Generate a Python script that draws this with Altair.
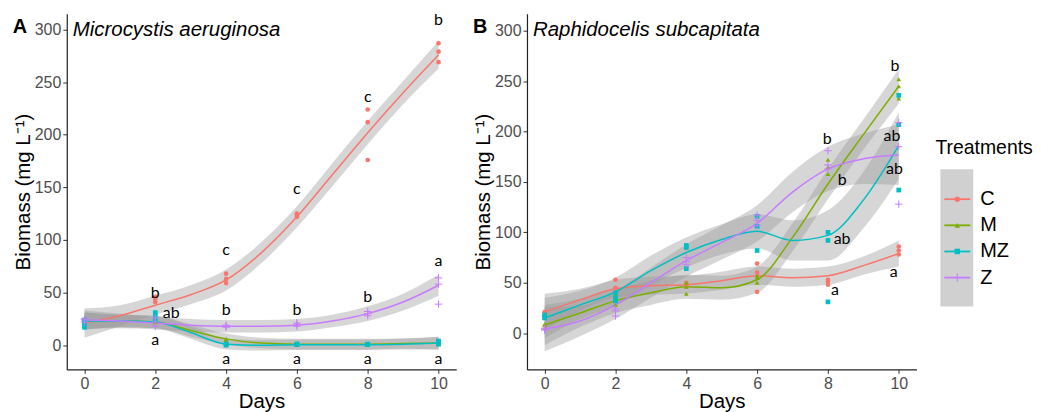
import altair as alt
import pandas as pd

# ---------------- data ----------------
treatments = ["C", "M", "MZ", "Z"]
colors = ["#F8766D", "#7CAE00", "#00BFC4", "#C77CFF"]
days = [0, 2, 4, 6, 8, 10]
fit_days = [0, 1, 2, 3, 4, 5, 6, 7, 8, 9, 10]

# Panel A: Microcystis aeruginosa  (3 replicates per sampling day)
A_C = [[18, 21, 24], [41, 44, 46], [59, 63, 68], [122, 124, 125], [176, 212, 224], [269, 279, 287]]
A_M = [[21, 23, 24], [22, 23, 24], [3, 5, 6], [0.5, 1, 1.5], [0.5, 1, 1], [1, 2, 3]]
A_MZ = [[17, 20, 24], [24, 28, 31], [0, 1, 1], [0.5, 1, 1], [0.5, 0.5, 1], [1, 3, 4]]
A_Z = [[22, 24, 25], [18, 22, 26], [17, 18, 19], [18, 20, 21], [28, 30, 32], [39, 58, 64]]

# Panel A smooth fits and CI half-widths
A_fit = {
    "C": [21, 28, 38, 48, 62, 88, 122, 162, 202, 240, 276],
    "M": [23, 23, 22, 14, 6, 2, 1, 1, 1, 1.5, 2],
    "MZ": [23, 23, 22, 12, 1, 0, 0.5, 0.5, 0.5, 1, 2],
    "Z": [24, 23, 21, 19, 18, 18, 19, 23, 30, 41, 57],
}
A_se = {
    "C": [14, 10, 9, 9, 10, 10, 10, 11, 11, 11, 13],
    "M": [8, 6, 6, 6, 5, 5, 5, 5, 5, 5, 6],
    "MZ": [8, 6, 6, 6, 5, 5, 5, 5, 5, 5, 6],
    "Z": [9, 7, 6, 6, 6, 6, 6, 6, 7, 8, 10],
}

# Panel B: Raphidocelis subcapitata
B_C = [[18, 20, 21], [40, 45, 53], [46, 48, 50], [41, 60, 69], [48, 51, 53], [78, 82, 86]]
B_M = [[5, 8, 9], [28, 33, 38], [39, 46, 50], [50, 55, 57], [158, 165, 172], [233, 245, 252]]
B_MZ = [[15, 16, 18], [32, 35, 40], [64, 85, 87], [82, 106, 116], [31, 92, 100], [142, 207, 236]]
B_Z = [[3, 4, 5], [17, 22, 24], [68, 71, 75], [107, 112, 117], [163, 167, 181], [128, 185, 209]]

B_fit = {
    "C": [21, 33, 44, 47, 48, 52, 57, 55, 57, 67, 79],
    "M": [8, 20, 32, 40, 46, 45, 53, 95, 148, 197, 245],
    "MZ": [15, 28, 41, 62, 80, 93, 101, 92, 97, 132, 186],
    "Z": [4, 12, 28, 50, 72, 90, 109, 140, 163, 173, 177],
}
B_se = {
    "C": [18, 11, 9, 9, 9, 9, 9, 9, 9, 9, 13],
    "M": [20, 14, 12, 12, 12, 12, 13, 14, 15, 15, 17],
    "MZ": [20, 14, 14, 15, 15, 15, 17, 20, 25, 28, 33],
    "Z": [22, 15, 14, 15, 16, 17, 18, 20, 22, 25, 30],
}

# significance letters: (day, value, text)
A_letters = [(10, 309.5, "b"), (8, 236, "c"), (6, 148, "c"), (4, 90, "c"), (2, 50, "b"),
             (2.45, 31, "ab"), (2, 5, "a"), (4, 33, "b"), (4, -13, "a"), (6, 33, "b"),
             (6, -13, "a"), (8, 46, "b"), (8, -13, "a"), (10, 80, "a"), (10, -13, "a")]
B_letters = [(9.89, 265, "b"), (9.81, 196, "ab"), (9.88, 163, "ab"), (7.98, 193, "b"),
             (8.4, 152, "b"), (8.4, 93, "ab"), (8.2, 43, "a"), (9.86, 61, "a")]

titles = {"A": "Microcystis aeruginosa", "B": "Raphidocelis subcapitata"}
y_domains = {"A": [-23, 315], "B": [-36, 317]}

# ---------------- helpers ----------------
def points_df(series):
    rows = []
    for t, reps in zip(treatments, series):
        for d, vals in zip(days, reps):
            for v in vals:
                rows.append({"Treatment": t, "day": d, "value": v})
    return pd.DataFrame(rows)


def fit_df(fit, se):
    rows = []
    for t in treatments:
        for d, f, s in zip(fit_days, fit[t], se[t]):
            rows.append({"Treatment": t, "day": d, "fit": f, "lo": f - s, "hi": f + s})
    return pd.DataFrame(rows)


color_scale = alt.Scale(domain=treatments, range=colors)
shape_scale = alt.Scale(domain=["C", "M", "MZ"], range=["circle", "triangle-up", "square"])
PLUS = "M-1,0L1,0M0,-1L0,1"
W, H = 391, 357


def panel(key, pts, fit, se, letters):
    xs = alt.Scale(domain=[-0.5, 10.5], nice=False, zero=False)
    ys = alt.Scale(domain=y_domains[key], nice=False, zero=False)
    xax = alt.Axis(values=days, title="Days", titlePadding=0)
    yax = alt.Axis(values=[0, 50, 100, 150, 200, 250, 300], title="Biomass (mg L⁻¹)", titlePadding=1)
    fd = fit_df(fit, se)
    pdf = points_df(pts)

    band = alt.Chart(fd).mark_area(color="#999999", opacity=0.4, interpolate="monotone").encode(
        x=alt.X("day:Q", scale=xs, axis=xax),
        y=alt.Y("lo:Q", scale=ys, axis=yax),
        y2="hi:Q",
        detail="Treatment:N",
    )
    line = alt.Chart(fd).mark_line(strokeWidth=1.5, interpolate="monotone").encode(
        x="day:Q", y="fit:Q",
        color=alt.Color("Treatment:N", scale=color_scale, legend=None),
    )
    filled = alt.Chart(pdf[pdf.Treatment != "Z"]).mark_point(filled=True, size=22, opacity=1).encode(
        x="day:Q", y="value:Q",
        color=alt.Color("Treatment:N", scale=color_scale, legend=None),
        shape=alt.Shape("Treatment:N", scale=shape_scale, legend=None),
    )
    plus = alt.Chart(pdf[pdf.Treatment == "Z"]).mark_point(
        shape=PLUS, filled=False, size=55, strokeWidth=1, opacity=1
    ).encode(
        x="day:Q", y="value:Q",
        color=alt.Color("Treatment:N", scale=color_scale, legend=None),
    )
    ldf = pd.DataFrame(letters, columns=["day", "value", "label"])
    lab = alt.Chart(ldf).mark_text(font="Lato", fontSize=16, color="black").encode(
        x="day:Q", y="value:Q", text="label:N"
    )
    tdf = pd.DataFrame({"t": [titles[key]], "p": [key]})
    ttl = alt.Chart(tdf).mark_text(
        font="Liberation Sans", fontStyle="italic", fontSize=20.5, align="left", baseline="middle", color="black"
    ).encode(x=alt.value(6), y=alt.value(16), text="t:N")
    tag = alt.Chart(tdf).mark_text(
        font="Liberation Sans", fontWeight="bold", fontSize=20, align="center", baseline="middle", color="black"
    ).encode(x=alt.value(-47), y=alt.value(13), text="p:N")
    return alt.layer(band, line, filled, plus, lab, ttl, tag).properties(width=W, height=H)


pA = panel("A", [A_C, A_M, A_MZ, A_Z], A_fit, A_se, A_letters)
pB = panel("B", [B_C, B_M, B_MZ, B_Z], B_fit, B_se, B_letters)

# ---------------- legend panel ----------------
leg_df = pd.DataFrame({"Treatment": treatments})
ly = alt.Y("Treatment:N", scale=alt.Scale(type="point", domain=treatments, range=[173, 278]), axis=None)
leg_bg = alt.Chart(pd.DataFrame({"a": [0]})).mark_rect(color="#D0D0D0").encode(
    x=alt.value(8), x2=alt.value(41), y=alt.value(156), y2=alt.value(294)
)
leg_title = alt.Chart(pd.DataFrame({"t": ["Treatments"]})).mark_text(
    font="Liberation Sans", fontSize=19.5, align="left", baseline="middle", color="black"
).encode(x=alt.value(3), y=alt.value(135), text="t:N")
leg_line = alt.Chart(leg_df).mark_rule(strokeWidth=1.8).encode(
    x=alt.value(12), x2=alt.value(38), y=ly,
    color=alt.Color("Treatment:N", scale=color_scale, legend=None),
)
leg_pts = alt.Chart(leg_df[leg_df.Treatment != "Z"]).mark_point(filled=True, size=30, opacity=1).encode(
    x=alt.value(25), y=ly,
    color=alt.Color("Treatment:N", scale=color_scale, legend=None),
    shape=alt.Shape("Treatment:N", scale=shape_scale, legend=None),
)
leg_plus = alt.Chart(leg_df[leg_df.Treatment == "Z"]).mark_point(
    shape=PLUS, filled=False, size=70, strokeWidth=1, opacity=1
).encode(
    x=alt.value(25), y=ly,
    color=alt.Color("Treatment:N", scale=color_scale, legend=None),
)
leg_txt = alt.Chart(leg_df).mark_text(
    font="Liberation Sans", fontSize=20, align="left", baseline="middle", color="black"
).encode(x=alt.value(48), y=ly, text="Treatment:N")
legend = alt.layer(leg_bg, leg_title, leg_line, leg_pts, leg_plus, leg_txt).properties(width=92, height=H)

chart = (
    alt.hconcat(pA, pB, legend, spacing=16)
    .resolve_scale(x="independent", y="independent", color="shared", shape="shared")
    .properties(padding={"left": 4, "top": 2, "right": 0, "bottom": 0})
    .configure_view(stroke=None)
    .configure_axis(
        grid=False,
        domainColor="#222222",
        domainWidth=1.2,
        tickColor="#333333",
        tickSize=4,
        labelColor="#4D4D4D",
        labelFont="Liberation Sans",
        labelFontSize=16,
        labelPadding=2,
        titleFont="Liberation Sans",
        titleFontSize=20.5,
        titleFontWeight="normal",
        titleColor="black",
    )
)

chart.save("out.html", embed_options={"renderer": "svg", "actions": False})
